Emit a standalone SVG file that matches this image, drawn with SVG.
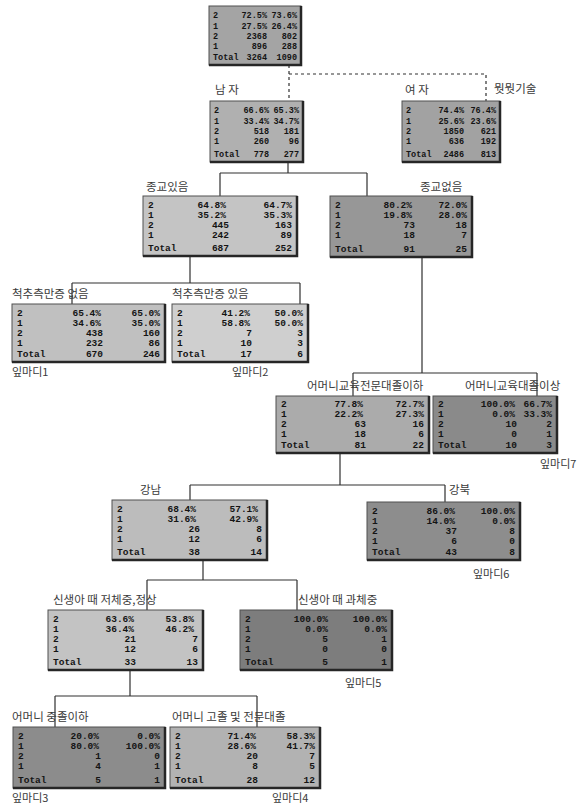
<svg xmlns="http://www.w3.org/2000/svg" width="588" height="805" viewBox="0 0 588 805">
<style>
.bx{stroke:#505050;stroke-width:1}
.sh{fill:none;stroke:#262626;stroke-width:2.5}
.d{font-family:"Liberation Mono","DejaVu Sans Mono",monospace;font-weight:bold;font-size:9.5px;fill:#141414}
.n{font-family:"Liberation Mono","DejaVu Sans Mono",monospace;font-weight:bold;font-size:8.5px;fill:#141414}
.e{text-anchor:end}
.lb{font-family:"Noto Sans CJK KR","Noto Sans",sans-serif;font-size:11.5px;fill:#3a3a3a}
.lf{font-family:"Noto Sans CJK KR","Noto Sans",sans-serif;font-size:11px;fill:#3a3a3a}
.c{fill:none;stroke:#303030;stroke-width:1.2}
.dash{fill:none;stroke:#303030;stroke-width:1.2;stroke-dasharray:3 3}
</style>
<rect width="588" height="805" fill="#ffffff"/>
<g id="connectors">
<path class="dash" d="M289,65V101M289,74H486V101"/>
<path class="c" d="M288,162V173M220,173H367M220,173V196M367,173V196"/>
<path class="c" d="M190,256V283M72,283H300M72,283V304M300,283V304"/>
<path class="c" d="M422,257V373M353,373H537M353,373V396M537,373V396"/>
<path class="c" d="M340,453V485M190,485H445M190,485V500M445,485V502"/>
<path class="c" d="M203,560V580M147,580H297M147,580V610M297,580V610"/>
<path class="c" d="M130,670V696M55,696H257M55,696V727M257,696V727"/>
<text class="lb" x="494" y="93">뭣뭣기술</text>
</g>
<g id="n-root" transform="translate(209,6)">
<rect class="bx" width="92" height="59" fill="#a4a4a4"/><path class="sh" d="M92,0V59H0"/>
<text class="n" x="4" y="12">2</text><text class="n e" x="58" y="12">72.5%</text><text class="n e" x="88" y="12">73.6%</text>
<text class="n" x="4" y="23">1</text><text class="n e" x="58" y="23">27.5%</text><text class="n e" x="88" y="23">26.4%</text>
<text class="n" x="4" y="33">2</text><text class="n e" x="58" y="33">2368</text><text class="n e" x="88" y="33">802</text>
<text class="n" x="4" y="43">1</text><text class="n e" x="58" y="43">896</text><text class="n e" x="88" y="43">288</text>
<text class="n" x="4" y="54">Total</text><text class="n e" x="58" y="54">3264</text><text class="n e" x="88" y="54">1090</text>
</g>
<g id="n-male" transform="translate(210,101)">
<text class="lb" x="5" y="-7">남 자</text>
<rect class="bx" width="93" height="61" fill="#b0b0b0"/><path class="sh" d="M93,0V61H0"/>
<text class="n" x="4" y="12">2</text><text class="n e" x="59" y="12">66.6%</text><text class="n e" x="89" y="12">65.3%</text>
<text class="n" x="4" y="23">1</text><text class="n e" x="59" y="23">33.4%</text><text class="n e" x="89" y="23">34.7%</text>
<text class="n" x="4" y="33">2</text><text class="n e" x="59" y="33">518</text><text class="n e" x="89" y="33">181</text>
<text class="n" x="4" y="43">1</text><text class="n e" x="59" y="43">260</text><text class="n e" x="89" y="43">96</text>
<text class="n" x="4" y="56">Total</text><text class="n e" x="59" y="56">778</text><text class="n e" x="89" y="56">277</text>
</g>
<g id="n-female" transform="translate(402,101)">
<text class="lb" x="3" y="-7">여 자</text>
<rect class="bx" width="98" height="61" fill="#a2a2a2"/><path class="sh" d="M98,0V61H0"/>
<text class="n" x="4" y="12">2</text><text class="n e" x="62" y="12">74.4%</text><text class="n e" x="94" y="12">76.4%</text>
<text class="n" x="4" y="23">1</text><text class="n e" x="62" y="23">25.6%</text><text class="n e" x="94" y="23">23.6%</text>
<text class="n" x="4" y="33">2</text><text class="n e" x="62" y="33">1850</text><text class="n e" x="94" y="33">621</text>
<text class="n" x="4" y="43">1</text><text class="n e" x="62" y="43">636</text><text class="n e" x="94" y="43">192</text>
<text class="n" x="4" y="56">Total</text><text class="n e" x="62" y="56">2486</text><text class="n e" x="94" y="56">813</text>
</g>
<g id="n-rel-yes" transform="translate(143,196)">
<text class="lb" x="3" y="-5">종교있음</text>
<rect class="bx" width="154" height="60" fill="#c4c4c4"/><path class="sh" d="M154,0V60H0"/>
<text class="d" x="5" y="11.5">2</text><text class="d e" x="83" y="11.5">64.8%</text><text class="d e" x="149" y="11.5">64.7%</text>
<text class="d" x="5" y="22">1</text><text class="d e" x="83" y="22">35.2%</text><text class="d e" x="149" y="22">35.3%</text>
<text class="d" x="5" y="32">2</text><text class="d e" x="86" y="32">445</text><text class="d e" x="149" y="32">163</text>
<text class="d" x="5" y="42">1</text><text class="d e" x="86" y="42">242</text><text class="d e" x="149" y="42">89</text>
<text class="d" x="5" y="55">Total</text><text class="d e" x="86" y="55">687</text><text class="d e" x="149" y="55">252</text>
</g>
<g id="n-rel-no" transform="translate(330,196)">
<text class="lb" x="90" y="-5">종교없음</text>
<rect class="bx" width="142" height="61" fill="#979797"/><path class="sh" d="M142,0V61H0"/>
<text class="d" x="5" y="11.5">2</text><text class="d e" x="82" y="11.5">80.2%</text><text class="d e" x="137" y="11.5">72.0%</text>
<text class="d" x="5" y="22">1</text><text class="d e" x="82" y="22">19.8%</text><text class="d e" x="137" y="22">28.0%</text>
<text class="d" x="5" y="32">2</text><text class="d e" x="85" y="32">73</text><text class="d e" x="137" y="32">18</text>
<text class="d" x="5" y="42">1</text><text class="d e" x="85" y="42">18</text><text class="d e" x="137" y="42">7</text>
<text class="d" x="5" y="56">Total</text><text class="d e" x="85" y="56">91</text><text class="d e" x="137" y="56">25</text>
</g>
<g id="n-sco-no" transform="translate(12,304)">
<text class="lb" x="0" y="-6">척추측만증 없음</text>
<rect class="bx" width="153" height="58" fill="#c0c0c0"/><path class="sh" d="M153,0V58H0"/>
<text class="d" x="5" y="11.5">2</text><text class="d e" x="89" y="11.5">65.4%</text><text class="d e" x="148" y="11.5">65.0%</text>
<text class="d" x="5" y="22">1</text><text class="d e" x="89" y="22">34.6%</text><text class="d e" x="148" y="22">35.0%</text>
<text class="d" x="5" y="32">2</text><text class="d e" x="91" y="32">438</text><text class="d e" x="148" y="32">160</text>
<text class="d" x="5" y="42">1</text><text class="d e" x="91" y="42">232</text><text class="d e" x="148" y="42">86</text>
<text class="d" x="5" y="53">Total</text><text class="d e" x="91" y="53">670</text><text class="d e" x="148" y="53">246</text>
<text class="lf" x="0" y="72">잎마디1</text>
</g>
<g id="n-sco-yes" transform="translate(172,304)">
<text class="lb" x="0" y="-6">척추측만증 있음</text>
<rect class="bx" width="136" height="58" fill="#cfcfcf"/><path class="sh" d="M136,0V58H0"/>
<text class="d" x="5" y="11.5">2</text><text class="d e" x="78" y="11.5">41.2%</text><text class="d e" x="131" y="11.5">50.0%</text>
<text class="d" x="5" y="22">1</text><text class="d e" x="78" y="22">58.8%</text><text class="d e" x="131" y="22">50.0%</text>
<text class="d" x="5" y="32">2</text><text class="d e" x="80" y="32">7</text><text class="d e" x="131" y="32">3</text>
<text class="d" x="5" y="42">1</text><text class="d e" x="80" y="42">10</text><text class="d e" x="131" y="42">3</text>
<text class="d" x="5" y="53">Total</text><text class="d e" x="80" y="53">17</text><text class="d e" x="131" y="53">6</text>
<text class="lf" x="60" y="72">잎마디2</text>
</g>
<g id="n-mom-low" transform="translate(276,396)">
<text class="lb" x="31" y="-6">어머니교육전문대졸이하</text>
<rect class="bx" width="153" height="57" fill="#ababab"/><path class="sh" d="M153,0V57H0"/>
<text class="d" x="5" y="11">2</text><text class="d e" x="87" y="11">77.8%</text><text class="d e" x="148" y="11">72.7%</text>
<text class="d" x="5" y="21">1</text><text class="d e" x="87" y="21">22.2%</text><text class="d e" x="148" y="21">27.3%</text>
<text class="d" x="5" y="31">2</text><text class="d e" x="90" y="31">63</text><text class="d e" x="148" y="31">16</text>
<text class="d" x="5" y="41">1</text><text class="d e" x="90" y="41">18</text><text class="d e" x="148" y="41">6</text>
<text class="d" x="5" y="52">Total</text><text class="d e" x="90" y="52">81</text><text class="d e" x="148" y="52">22</text>
</g>
<g id="n-mom-high" transform="translate(433,396)">
<text class="lb" x="32" y="-6">어머니교육대졸이상</text>
<rect class="bx" width="124" height="57" fill="#8a8a8a"/><path class="sh" d="M124,0V57H0"/>
<text class="d" x="5" y="11">2</text><text class="d e" x="82" y="11">100.0%</text><text class="d e" x="119" y="11">66.7%</text>
<text class="d" x="5" y="21">1</text><text class="d e" x="82" y="21">0.0%</text><text class="d e" x="119" y="21">33.3%</text>
<text class="d" x="5" y="31">2</text><text class="d e" x="84" y="31">10</text><text class="d e" x="119" y="31">2</text>
<text class="d" x="5" y="41">1</text><text class="d e" x="84" y="41">0</text><text class="d e" x="119" y="41">1</text>
<text class="d" x="5" y="52">Total</text><text class="d e" x="84" y="52">10</text><text class="d e" x="119" y="52">3</text>
<text class="lf" x="107" y="72">잎마디7</text>
</g>
<g id="n-gangnam" transform="translate(112,500)">
<text class="lb" x="28" y="-6">강남</text>
<rect class="bx" width="155" height="60" fill="#bcbcbc"/><path class="sh" d="M155,0V60H0"/>
<text class="d" x="5" y="11.5">2</text><text class="d e" x="84" y="11.5">68.4%</text><text class="d e" x="146" y="11.5">57.1%</text>
<text class="d" x="5" y="22">1</text><text class="d e" x="84" y="22">31.6%</text><text class="d e" x="146" y="22">42.9%</text>
<text class="d" x="5" y="32">2</text><text class="d e" x="88" y="32">26</text><text class="d e" x="150" y="32">8</text>
<text class="d" x="5" y="42">1</text><text class="d e" x="88" y="42">12</text><text class="d e" x="150" y="42">6</text>
<text class="d" x="5" y="55">Total</text><text class="d e" x="88" y="55">38</text><text class="d e" x="150" y="55">14</text>
</g>
<g id="n-gangbuk" transform="translate(367,502)">
<text class="lb" x="82" y="-8">강북</text>
<rect class="bx" width="153" height="58" fill="#8d8d8d"/><path class="sh" d="M153,0V58H0"/>
<text class="d" x="5" y="11.5">2</text><text class="d e" x="88" y="11.5">86.0%</text><text class="d e" x="148" y="11.5">100.0%</text>
<text class="d" x="5" y="22">1</text><text class="d e" x="88" y="22">14.0%</text><text class="d e" x="148" y="22">0.0%</text>
<text class="d" x="5" y="32">2</text><text class="d e" x="90" y="32">37</text><text class="d e" x="148" y="32">8</text>
<text class="d" x="5" y="42">1</text><text class="d e" x="90" y="42">6</text><text class="d e" x="148" y="42">0</text>
<text class="d" x="5" y="53">Total</text><text class="d e" x="90" y="53">43</text><text class="d e" x="148" y="53">8</text>
<text class="lf" x="106" y="76">잎마디6</text>
</g>
<g id="n-birth-norm" transform="translate(48,610)">
<text class="lb" x="5" y="-6">신생아 때 저체중,정상</text>
<rect class="bx" width="155" height="60" fill="#c3c3c3"/><path class="sh" d="M155,0V60H0"/>
<text class="d" x="5" y="11.5">2</text><text class="d e" x="86" y="11.5">63.6%</text><text class="d e" x="146" y="11.5">53.8%</text>
<text class="d" x="5" y="22">1</text><text class="d e" x="86" y="22">36.4%</text><text class="d e" x="146" y="22">46.2%</text>
<text class="d" x="5" y="32">2</text><text class="d e" x="88" y="32">21</text><text class="d e" x="150" y="32">7</text>
<text class="d" x="5" y="42">1</text><text class="d e" x="88" y="42">12</text><text class="d e" x="150" y="42">6</text>
<text class="d" x="5" y="55">Total</text><text class="d e" x="88" y="55">33</text><text class="d e" x="150" y="55">13</text>
</g>
<g id="n-birth-over" transform="translate(240,610)">
<text class="lb" x="58" y="-6">신생아 때 과체중</text>
<rect class="bx" width="152" height="60" fill="#7d7d7d"/><path class="sh" d="M152,0V60H0"/>
<text class="d" x="5" y="11.5">2</text><text class="d e" x="88" y="11.5">100.0%</text><text class="d e" x="147" y="11.5">100.0%</text>
<text class="d" x="5" y="22">1</text><text class="d e" x="88" y="22">0.0%</text><text class="d e" x="147" y="22">0.0%</text>
<text class="d" x="5" y="32">2</text><text class="d e" x="88" y="32">5</text><text class="d e" x="147" y="32">1</text>
<text class="d" x="5" y="42">1</text><text class="d e" x="88" y="42">0</text><text class="d e" x="147" y="42">0</text>
<text class="d" x="5" y="55">Total</text><text class="d e" x="88" y="55">5</text><text class="d e" x="147" y="55">1</text>
<text class="lf" x="105" y="77">잎마디5</text>
</g>
<g id="n-mom-mid" transform="translate(13,727)">
<text class="lb" x="-1" y="-6">어머니 중졸이하</text>
<rect class="bx" width="152" height="61" fill="#8c8c8c"/><path class="sh" d="M152,0V61H0"/>
<text class="d" x="5" y="11.5">2</text><text class="d e" x="86" y="11.5">20.0%</text><text class="d e" x="147" y="11.5">0.0%</text>
<text class="d" x="5" y="22">1</text><text class="d e" x="86" y="22">80.0%</text><text class="d e" x="147" y="22">100.0%</text>
<text class="d" x="5" y="32">2</text><text class="d e" x="88" y="32">1</text><text class="d e" x="147" y="32">0</text>
<text class="d" x="5" y="42">1</text><text class="d e" x="88" y="42">4</text><text class="d e" x="147" y="42">1</text>
<text class="d" x="5" y="56">Total</text><text class="d e" x="88" y="56">5</text><text class="d e" x="147" y="56">1</text>
<text class="lf" x="-1" y="75">잎마디3</text>
</g>
<g id="n-mom-hs" transform="translate(170,727)">
<text class="lb" x="2" y="-6">어머니 고졸 및 전문대졸</text>
<rect class="bx" width="150" height="61" fill="#b2b2b2"/><path class="sh" d="M150,0V61H0"/>
<text class="d" x="5" y="11.5">2</text><text class="d e" x="86" y="11.5">71.4%</text><text class="d e" x="145" y="11.5">58.3%</text>
<text class="d" x="5" y="22">1</text><text class="d e" x="86" y="22">28.6%</text><text class="d e" x="145" y="22">41.7%</text>
<text class="d" x="5" y="32">2</text><text class="d e" x="88" y="32">20</text><text class="d e" x="145" y="32">7</text>
<text class="d" x="5" y="42">1</text><text class="d e" x="88" y="42">8</text><text class="d e" x="145" y="42">5</text>
<text class="d" x="5" y="56">Total</text><text class="d e" x="88" y="56">28</text><text class="d e" x="145" y="56">12</text>
<text class="lf" x="102" y="75">잎마디4</text>
</g>
</svg>
